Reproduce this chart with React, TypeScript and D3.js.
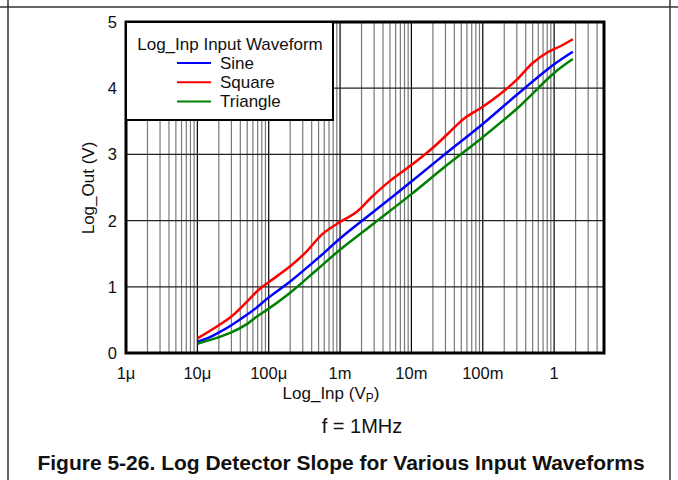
import React from "react";
import * as d3 from "d3";

const sineIn = [1e-5, 1.5e-5, 2e-5, 3e-5, 5e-5, 7e-5, 1e-4, 2e-4, 5e-4, 1e-3, 3e-3, 1e-2, 3e-2, 1e-1, 3e-1, 1, 1.83];
const sineOut = [0.17, 0.24, 0.31, 0.42, 0.58, 0.7, 0.84, 1.08, 1.44, 1.73, 2.14, 2.59, 3.01, 3.46, 3.9, 4.36, 4.55];
const squareIn = [1e-5, 2e-5, 3e-5, 5e-5, 7e-5, 1e-4, 2e-4, 3.3e-4, 5.7e-4, 1e-3, 1.7e-3, 2.8e-3, 5e-3, 1e-2, 1.5e-2, 2e-2, 3.3e-2, 5.6e-2, 1e-1, 0.17, 0.3, 0.5, 0.8, 1.2, 1.83];
const squareOut = [0.22, 0.42, 0.55, 0.78, 0.94, 1.07, 1.31, 1.52, 1.8, 1.98, 2.13, 2.36, 2.6, 2.84, 2.99, 3.1, 3.32, 3.55, 3.72, 3.9, 4.13, 4.38, 4.54, 4.63, 4.74];
const triangleIn = [1e-5, 2e-5, 3e-5, 5e-5, 7e-5, 1e-4, 2e-4, 5e-4, 1e-3, 3e-3, 1e-2, 3e-2, 1e-1, 3e-1, 1, 1.83];
const triangleOut = [0.14, 0.24, 0.31, 0.44, 0.56, 0.67, 0.91, 1.28, 1.56, 1.96, 2.4, 2.82, 3.26, 3.69, 4.23, 4.44];

const seriesNames = ["Sine", "Square", "Triangle"];
const seriesColors = ["#0000ff", "#ff0000", "#008000"];
const xTickValues = [1e-6, 1e-5, 1e-4, 1e-3, 1e-2, 1e-1, 1];
const xTickLabels = ["1\u03bc", "10\u03bc", "100\u03bc", "1m", "10m", "100m", "1"];
const yTickValues = [0, 1, 2, 3, 4, 5];

const W = 678;
const H = 480;
const L = 126, R = 604, T = 22, B = 353;

export default function App() {
  const x = d3.scaleLog().domain([1e-6, 5]).range([L, R]);
  const y = d3.scaleLinear().domain([0, 5]).range([B, T]);

  const minor: number[] = [];
  const major: number[] = [];
  for (let e = -6; e <= 0; e++) {
    for (let m = 1; m <= 9; m++) {
      const v = m * Math.pow(10, e);
      if (v > 5) continue;
      if (m === 1) major.push(v); else minor.push(v);
    }
  }

  const series: [number[], number[]][] = [
    [sineIn, sineOut],
    [squareIn, squareOut],
    [triangleIn, triangleOut],
  ];
  const line = d3.line<[number, number]>()
    .x((d) => x(d[0]))
    .y((d) => y(d[1]))
    .curve(d3.curveCatmullRom.alpha(0.5));

  const font = "'Liberation Sans', Arial, sans-serif";

  return (
    <svg width={W} height={H} style={{ position: "absolute", left: 0, top: 0 }} fontFamily={font}>
      <rect x={0} y={0} width={W} height={H} fill="#fff" />
      {/* outer frame */}
      <line x1={0} x2={W} y1={7} y2={7} stroke="#333" strokeWidth={1.5} />
      <line x1={8} x2={8} y1={0} y2={H} stroke="#333" strokeWidth={1.5} />
      <line x1={670} x2={670} y1={0} y2={H} stroke="#333" strokeWidth={1.5} />

      {/* grid */}
      {minor.map((v, i) => (
        <line key={"mi" + i} x1={x(v)} x2={x(v)} y1={T} y2={B} stroke="#7a7a7a" strokeWidth={1.2} />
      ))}
      {major.map((v, i) => (
        <line key={"ma" + i} x1={x(v)} x2={x(v)} y1={T} y2={B} stroke="#000" strokeWidth={1.2} />
      ))}
      {yTickValues.slice(1, -1).map((v) => (
        <line key={"h" + v} x1={L} x2={R} y1={y(v)} y2={y(v)} stroke="#222" strokeWidth={1.2} />
      ))}

      {/* curves */}
      {series.map(([xs, ys], i) => (
        <path
          key={"s" + i}
          d={line(xs.map((v, j) => [v, ys[j]] as [number, number])) || ""}
          fill="none"
          stroke={seriesColors[i]}
          strokeWidth={2.5}
        />
      ))}

      {/* plot border */}
      <rect x={L} y={T} width={R - L} height={B - T} fill="none" stroke="#000" strokeWidth={3} />

      {/* legend */}
      <rect x={L} y={T} width={207} height={98} fill="#fff" stroke="#000" strokeWidth={2} />
      <text x={230} y={50} fontSize={17} textAnchor="middle" fill="#111">Log_Inp Input Waveform</text>
      {seriesNames.map((n, i) => (
        <g key={"lg" + i}>
          <line x1={177} x2={211} y1={63 + i * 19.2} y2={63 + i * 19.2} stroke={seriesColors[i]} strokeWidth={2} />
          <text x={220} y={69 + i * 19.2} fontSize={17} fill="#111">{n}</text>
        </g>
      ))}

      {/* y ticks */}
      {yTickValues.map((v) => (
        <text key={"yt" + v} x={117} y={y(v) + 6} fontSize={16.5} textAnchor="end" fill="#111">{v}</text>
      ))}
      <text transform={`translate(94,188) rotate(-90)`} fontSize={17} textAnchor="middle" fill="#111">Log_Out (V)</text>

      {/* x ticks */}
      {xTickValues.map((v, i) => (
        <text key={"xt" + i} x={x(v)} y={379} fontSize={16.5} textAnchor="middle" fill="#111">{xTickLabels[i]}</text>
      ))}
      <text x={331} y={399} fontSize={17} textAnchor="middle" fill="#111">
        Log_Inp (V<tspan fontSize={12} dy={3}>P</tspan><tspan dy={-3}>)</tspan>
      </text>
      <text x={362} y={433} fontSize={20} textAnchor="middle" fill="#111">f = 1MHz</text>
      <text x={341} y={470} fontSize={21} fontWeight="bold" textAnchor="middle" fill="#111">Figure 5-26. Log Detector Slope for Various Input Waveforms</text>
    </svg>
  );
}
